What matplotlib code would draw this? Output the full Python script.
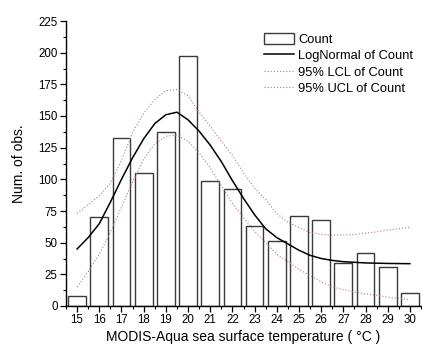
import matplotlib
matplotlib.use("Agg")
import matplotlib.pyplot as plt
from matplotlib.ticker import MultipleLocator

plt.rcParams['font.family'] = ['Liberation Sans', 'DejaVu Sans']

temps = [15, 16, 17, 18, 19, 20, 21, 22, 23, 24, 25, 26, 27, 28, 29, 30]
counts = [8, 70, 133, 105, 137, 197, 99, 92, 63, 51, 71, 68, 34, 42, 31, 10]

curve_x = [15, 15.5, 16, 16.5, 17, 17.5, 18, 18.5, 19, 19.5, 20, 20.5, 21, 21.5,
           22, 22.5, 23, 23.5, 24, 24.5, 25, 25.5, 26, 26.5, 27, 27.5, 28, 28.5,
           29, 29.5, 30]
lognormal = [45, 54, 65, 82, 100, 117, 132, 144, 151, 153, 147, 138, 127, 114,
             99, 85, 72, 61, 54, 49, 44, 40, 37.5, 36, 35, 34.5, 34, 33.8,
             33.6, 33.5, 33.4]
ucl = [73, 80, 87, 97, 115, 137, 152, 163, 170, 171, 166, 153, 142, 130,
       119, 105, 93, 84, 73, 66, 62, 58, 56.5, 56, 56, 56.5, 57.5, 58.5,
       60, 61, 62]
lcl = [15, 27, 41, 58, 78, 98, 116, 128, 134, 135, 130, 121, 109, 95,
       81, 70, 59, 50, 41, 35, 29, 24, 19, 15, 13, 11, 9.5, 8.5,
       7, 6, 5]

fig = plt.figure(figsize=(4.22, 3.47), dpi=100)
ax = fig.add_axes([66/422, 41/347, 355/422, 285/347])

h_bar = ax.bar(temps, counts, width=0.8, facecolor='white', edgecolor='#3a3a3a',
               linewidth=1.0, label='Count', zorder=2)
h_ln, = ax.plot(curve_x, lognormal, color='black', linewidth=1.1,
                label='LogNormal of Count', zorder=3)
h_lcl, = ax.plot(curve_x, lcl, color='#b07a8a', linewidth=0.8, linestyle=(0, (1, 1.8)),
                 label='95% LCL of Count', zorder=3)
h_ucl, = ax.plot(curve_x, ucl, color='#b07a8a', linewidth=0.8, linestyle=(0, (1, 1.8)),
                 label='95% UCL of Count', zorder=3)

ax.set_xlim(14.5, 30.5)
ax.set_ylim(0, 225)
ax.set_xticks(temps)
ax.set_xticklabels([str(t) for t in temps])
ax.xaxis.set_minor_locator(MultipleLocator(0.5))
ax.yaxis.set_major_locator(MultipleLocator(25))
ax.yaxis.set_minor_locator(MultipleLocator(12.5))
ax.tick_params(which='major', direction='out', length=4, width=0.9, labelsize=8.3, pad=2)
ax.tick_params(which='minor', direction='out', length=2.5, width=0.8)
ax.spines['top'].set_visible(False)
ax.spines['right'].set_visible(False)
ax.spines['left'].set_linewidth(1.0)
ax.spines['bottom'].set_linewidth(1.0)

ax.set_xlabel('MODIS-Aqua sea surface temperature ( °C )', fontsize=10, labelpad=3)
ax.set_ylabel('Num. of obs.', fontsize=10, labelpad=9)

leg = ax.legend([h_bar, h_ln, h_lcl, h_ucl],
                ['Count', 'LogNormal of Count', '95% LCL of Count', '95% UCL of Count'],
                loc='upper left', bbox_to_anchor=(264/422, 0.905),
                bbox_transform=fig.transFigure, frameon=False, fontsize=9.3,
                handlelength=2.35, handletextpad=0.3, labelspacing=0.28,
                borderpad=0, borderaxespad=0, handleheight=0.9)

fig.savefig('out.png', dpi=100)
